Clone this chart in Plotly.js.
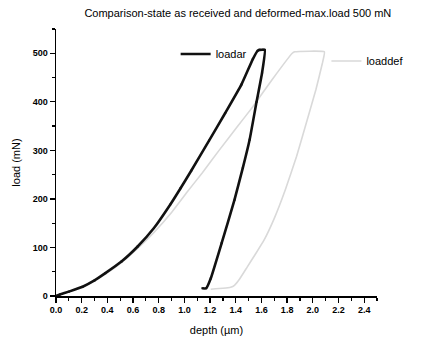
<!DOCTYPE html>
<html>
<head>
<meta charset="utf-8">
<script src="https://cdn.plot.ly/plotly-3.0.1.min.js"></script>
<style>html,body{margin:0;padding:0;background:#fff;}#chart{width:421px;height:342px;}</style>
</head>
<body>
<div id="chart"></div>
<script>
// loadar (as received): loading then unloading
const arDepth = [0, 0.03, 0.1, 0.207, 0.3, 0.384, 0.51, 0.636, 0.763, 0.889, 0.97, 1.053, 1.192, 1.318, 1.445, 1.533, 1.57, 1.585, 1.626,
                 1.605, 1.562, 1.508, 1.455, 1.39, 1.29, 1.205, 1.17, 1.14];
const arLoad  = [0, 3, 9, 19, 32, 47, 71, 102, 140, 188, 222, 258, 320, 377, 436, 488, 505, 507, 507,
                 460, 400, 322, 264, 198, 109, 36, 16, 16];
// loaddef (deformed)
const defDepth = [0, 0.1, 0.207, 0.384, 0.51, 0.636, 0.763, 0.9, 1.015, 1.14, 1.27, 1.41, 1.533, 1.684, 1.84, 1.86, 2.09,
                  2.075, 2.025, 1.95, 1.874, 1.786, 1.70, 1.62, 1.55, 1.49, 1.43, 1.39, 1.36, 1.30, 1.205];
const defLoad  = [0, 9, 18, 45, 69, 98, 131, 172, 212, 254, 300, 348, 390, 446, 500, 503, 503,
                  480, 426, 357, 288, 219, 160, 115, 85, 60, 35, 22, 18, 16, 14];
const seriesNames = ['loadar', 'loaddef'];
const chartTitle = 'Comparison-state as received and deformed-max.load 500 mN';
const xTitle = 'depth (\u00b5m)';
const yTitle = 'load (mN)';

const F = 'Arial, "Liberation Sans", sans-serif';
const traces = [
  {x: defDepth, y: defLoad, name: seriesNames[1], type: 'scatter', mode: 'lines',
   line: {color: '#d9d9d9', width: 1.6, shape: 'spline', smoothing: 0.35}, legend: 'legend2', cliponaxis: false},
  {x: arDepth, y: arLoad, name: seriesNames[0], type: 'scatter', mode: 'lines+markers',
   line: {color: '#111111', width: 2.6, shape: 'spline', smoothing: 0.35},
   marker: {symbol: 'square', size: 2, color: '#111111'},
   legend: 'legend', cliponaxis: false}
];
const axisCommon = {
  showline: true, linecolor: '#000', linewidth: 1.5, showgrid: false, zeroline: false,
  ticks: 'outside', ticklen: 5, tickwidth: 1.3, tickcolor: '#000',
  tickfont: {family: F, size: 9, color: '#000', weight: 'bold'},
  minor: {ticks: 'outside', ticklen: 3, tickwidth: 1.2, tickcolor: '#000'}
};
const layout = {
  width: 421, height: 342,
  margin: {l: 56, r: 35, t: 29, b: 46},
  paper_bgcolor: '#fff', plot_bgcolor: '#fff',
  title: {text: chartTitle, font: {family: F, size: 11, color: '#000'}, x: 0.565, xanchor: 'center', y: 0.962, yanchor: 'middle'},
  xaxis: Object.assign({}, axisCommon, {
    range: [0, 2.5], tickvals: [0,0.2,0.4,0.6,0.8,1.0,1.2,1.4,1.6,1.8,2.0,2.2,2.4],
    ticktext: ['0.0','0.2','0.4','0.6','0.8','1.0','1.2','1.4','1.6','1.8','2.0','2.2','2.4'],
    minor: Object.assign({}, axisCommon.minor, {tickvals: [0.1,0.3,0.5,0.7,0.9,1.1,1.3,1.5,1.7,1.9,2.1,2.3,2.5]}),
    title: {text: xTitle, font: {family: F, size: 11, color: '#000'}, standoff: 12}
  }),
  yaxis: Object.assign({}, axisCommon, {
    range: [0, 550], tickvals: [0,100,200,300,400,500],
    minor: Object.assign({}, axisCommon.minor, {tickvals: [50,150,250,350,450,550]}),
    title: {text: yTitle, font: {family: F, size: 11, color: '#000'}, standoff: 10}
  }),
  legend: {x: (179-56)/330, xanchor: 'left', y: 1 - (54-29)/267, yanchor: 'middle',
           bgcolor: 'rgba(0,0,0,0)', font: {family: F, size: 11, color: '#000'}},
  legend2: {x: (334-56)/330, xanchor: 'left', y: 1 - (61-29)/267, yanchor: 'middle',
           bgcolor: 'rgba(0,0,0,0)', font: {family: F, size: 11, color: '#000'}},
  showlegend: true
};
Plotly.newPlot('chart', traces, layout, {displayModeBar: false, staticPlot: true});
</script>
</body>
</html>
